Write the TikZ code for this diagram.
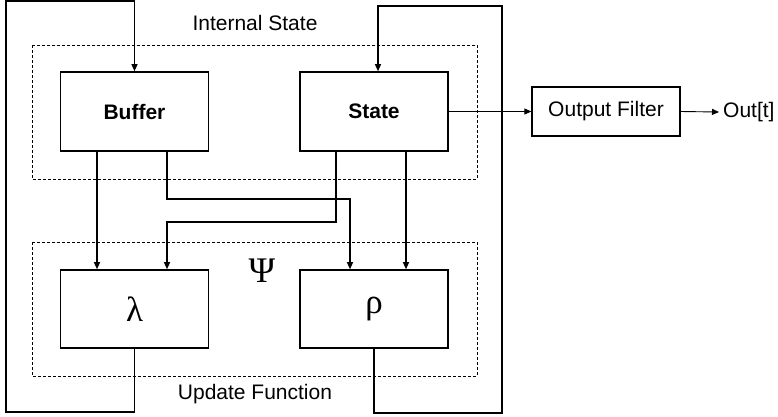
\documentclass[tikz,border=0pt]{standalone}
\usepackage{fontspec}
\setmainfont{Liberation Sans}
\newfontfamily\greekfont{Liberation Serif}
\usetikzlibrary{arrows.meta}
\begin{document}
\begin{tikzpicture}[x=1pt,y=-1pt,
  every node/.style={font=\fontsize{21}{24}\selectfont},
  blockbox/.style={draw,line width=1.6pt,inner sep=0pt,minimum width=148pt,minimum height=79pt},
  groupbox/.style={draw,line width=0.8pt,dash pattern=on 3pt off 2pt},
  link/.style={line width=1.2pt,-{Triangle[length=7pt,width=6pt]}},
  thinlink/.style={line width=0.9pt,-{Triangle[length=7pt,width=6pt]}},
  greek/.style={font=\greekfont\fontsize{36}{40}\selectfont}]
\useasboundingbox (0,0) rectangle (778,416);

% dashed groups
\draw[groupbox] (32,45) rectangle (477,179);
\draw[groupbox] (32,242) rectangle (477,376);
\node (lblstate) at (255,23) {Internal State};
\node (lblupd) at (255,394) {Update Function};
\node[greek] (psi) at (262,271) {Ψ};

% blocks
\node[blockbox] (buf) at (134.5,111.5) {\bfseries Buffer};
\node[blockbox] (st) at (374,111.5) {\bfseries State};
\node[blockbox,minimum height=78pt] (lam) at (134.5,309) {\greekfont\fontsize{35}{38}\selectfont λ};
\node[blockbox,minimum height=78pt] (rho) at (374,309) {\greekfont\fontsize{35}{38}\selectfont ρ};
\node[draw,line width=1.3pt,minimum width=148pt,minimum height=49pt,inner sep=0pt] (filt) at (606,111.5) {Output Filter};
\node[anchor=west,inner sep=4pt] (out) at (719,112) {Out[t]};

% routing points
\coordinate (xa) at (97,0);
\coordinate (xc) at (336,0);
\coordinate (xb) at (167,0);
\coordinate (xe) at (406,0);
\coordinate (xs) at (378,0);
\coordinate (k1) at (350,199);
\coordinate (k2) at (167,222);
\coordinate (f1) at (6,412);
\coordinate (f2) at (6,1);
\coordinate (g1) at (502,413);
\coordinate (g2) at (502,6);

% internal state to update function
\draw[link] (buf.south -| xa) -- (lam.north -| xa);
\draw[link] (buf.south -| xb) |- (k1) -- (rho.north -| k1);
\draw[link] (st.south -| xc) |- (k2) -- (lam.north -| k2);
\draw[link] (st.south -| xe) -- (rho.north -| xe);

% feedback loops
\draw[link] (lam.south) |- (f1) -- (f2) -| (buf.north);
\draw[link] (rho.south) |- (g1) -- (g2) -| (st.north -| xs);

% output path
\draw[thinlink] (st.east) -- (filt.west);
\draw[thinlink] (filt.east) -- (out.west);
\end{tikzpicture}
\end{document}
